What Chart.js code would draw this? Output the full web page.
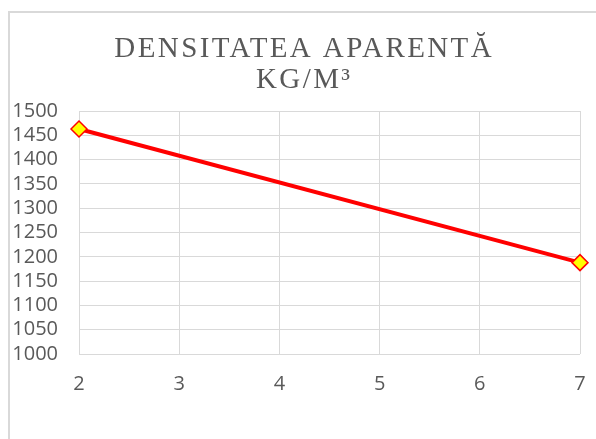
<!DOCTYPE html>
<html>
<head>
<meta charset="utf-8">
<script src="https://cdn.jsdelivr.net/npm/chart.js@4/dist/chart.umd.min.js"></script>
<style>
  html, body { margin: 0; padding: 0; background: #ffffff; overflow: hidden; }
  #wrap { position: relative; width: 596px; height: 439px; }
  #frame { position: absolute; left: 8px; top: 11px; width: 620px; height: 460px;
           border-left: 2px solid #d9d9d9; border-top: 2px solid #d9d9d9; box-sizing: border-box; }
  canvas { position: absolute; left: 0; top: 0; }
</style>
</head>
<body>
<div id="wrap">
  <div id="frame"></div>
  <canvas id="c" width="596" height="439"></canvas>
</div>
<script>
// Apparent density series
const titleLines = ['DENSITATEA APARENTĂ', 'KG/M³'];
const xValues = [2, 7];
const densityValues = [1463, 1188];
const yTicks = [1000, 1050, 1100, 1150, 1200, 1250, 1300, 1350, 1400, 1450, 1500];
const xTicks = [2, 3, 4, 5, 6, 7];

const points = xValues.map((x, i) => ({ x: x, y: densityValues[i] }));

// Letter-spaced serif title drawn above the plot
const spacedTitle = {
  id: 'spacedTitle',
  afterDraw(chart) {
    const ctx = chart.ctx;
    ctx.save();
    ctx.fillStyle = '#595959';
    ctx.font = '29px "Liberation Serif", "Times New Roman", serif';
    ctx.textAlign = 'left';
    ctx.textBaseline = 'alphabetic';
    const spacing = 2.4;
    ctx.letterSpacing = spacing + 'px';
    const cx = 303;
    const baselines = [57, 88];
    titleLines.forEach((t, i) => {
      const w = ctx.measureText(t).width - spacing;
      ctx.fillText(t, cx - w / 2, baselines[i]);
    });
    ctx.restore();
  }
};

const tickFont = { family: '"Open Sans", sans-serif', size: 20 };

new Chart(document.getElementById('c'), {
  type: 'scatter',
  data: {
    datasets: [{
      data: points,
      showLine: true,
      borderColor: '#ff0000',
      borderWidth: 4,
      pointStyle: 'rectRot',
      pointRadius: 8,
      pointHoverRadius: 8,
      pointBackgroundColor: '#ffff00',
      pointBorderColor: '#ff0000',
      pointBorderWidth: 1.5,
      clip: false
    }]
  },
  options: {
    responsive: false,
    animation: false,
    events: [],
    layout: { padding: { top: 111, left: 14, right: 16, bottom: 25 } },
    plugins: {
      legend: { display: false },
      title: { display: false },
      tooltip: { enabled: false }
    },
    scales: {
      x: {
        type: 'linear',
        min: xTicks[0],
        max: xTicks[xTicks.length - 1],
        afterBuildTicks(scale) { scale.ticks = xTicks.map(v => ({ value: v })); },
        afterFit(scale) { scale.height = 60; },
        grid: { color: '#d9d9d9', lineWidth: 1, drawTicks: true, tickLength: 18, tickColor: 'rgba(0,0,0,0)' },
        border: { display: false },
        ticks: {
          color: '#595959',
          font: tickFont,
          padding: 0,
          autoSkip: false,
          maxRotation: 0,
          callback: v => String(v)
        }
      },
      y: {
        min: yTicks[0],
        max: yTicks[yTicks.length - 1],
        afterBuildTicks(scale) { scale.ticks = yTicks.map(v => ({ value: v })); },
        afterFit(scale) { scale.width = 65; },
        grid: { color: '#d9d9d9', lineWidth: 1, drawTicks: false },
        border: { display: false },
        ticks: {
          color: '#595959',
          font: tickFont,
          padding: 21,
          autoSkip: false,
          callback: v => String(v)
        }
      }
    }
  },
  plugins: [spacedTitle]
});
</script>
</body>
</html>
